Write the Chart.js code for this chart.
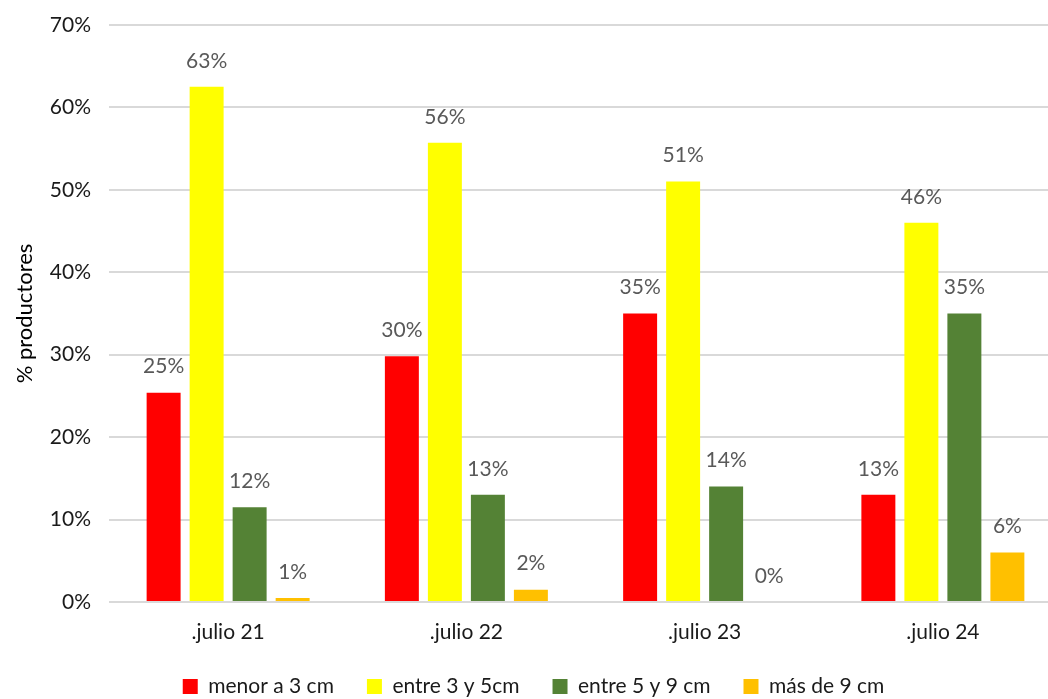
<!DOCTYPE html>
<html>
<head>
<meta charset="utf-8">
<script src="https://cdn.jsdelivr.net/npm/chart.js@4"></script>
<style>
  html, body { margin: 0; padding: 0; background: #fff; }
  #wrap { width: 1048px; height: 699px; }
</style>
</head>
<body>
<div id="wrap"><canvas id="barChart" width="1048" height="699"></canvas></div>
<script>
// datos (porcentaje de productores)
const categories = ['.julio 21', '.julio 22', '.julio 23', '.julio 24'];
const seriesNames = ['menor a 3 cm', 'entre 3 y 5cm', 'entre 5 y 9 cm', 'más de 9 cm'];
const menor3 = [25.4, 29.8, 35.0, 13.0];
const entre3y5 = [62.5, 55.7, 51.0, 46.0];
const entre5y9 = [11.5, 13.0, 14.0, 35.0];
const mas9 = [0.5, 1.5, 0, 6.0];
const seriesColors = ['#FF0000', '#FFFF00', '#548235', '#FFC000'];
const yTicks = [0, 10, 20, 30, 40, 50, 60, 70];

const FONT = 'Lato, "Open Sans", sans-serif';

// el area del grafico original sigue mas alla del borde derecho de la imagen
const PLOT_RIGHT = 1062;

const valueLabels = {
  id: 'valueLabels',
  afterLayout(chart) {
    // centrar la leyenda como en el original
    chart.legend.left += 3;
    chart.legend.right += 3;
    const x = chart.scales.x;
    x.right = PLOT_RIGHT;
    x.width = x.right - x.left;
    x.configure();
    chart.chartArea.right = PLOT_RIGHT;
    chart.chartArea.width = PLOT_RIGHT - chart.chartArea.left;
  },
  // etiquetas de valor encima de cada barra
  afterDatasetsDraw(chart) {
    const ctx = chart.ctx;
    ctx.save();
    ctx.font = '21px ' + FONT;
    ctx.fillStyle = '#595959';
    ctx.textAlign = 'center';
    ctx.textBaseline = 'middle';
    chart.data.datasets.forEach((ds, i) => {
      chart.getDatasetMeta(i).data.forEach((bar, j) => {
        ctx.fillText(Math.round(ds.data[j]) + '%', bar.x, bar.y - 26);
      });
    });
    ctx.restore();
  }
};

const allSeries = [menor3, entre3y5, entre5y9, mas9];

const chart = new Chart(document.getElementById('barChart'), {
  type: 'bar',
  data: {
    labels: categories,
    datasets: allSeries.map((data, i) => ({
      label: seriesNames[i],
      data: data,
      backgroundColor: seriesColors[i],
      borderWidth: 0,
      barPercentage: 0.79,
      categoryPercentage: 0.722
    }))
  },
  options: {
    responsive: false,
    animation: false,
    layout: { padding: { top: 25, right: -13, left: 0, bottom: -8 } },
    plugins: {
      legend: {
        position: 'bottom',
        labels: {
          font: { family: FONT, size: 21 },
          color: '#1a1a1a',
          boxWidth: 15,
          boxHeight: 15,
          padding: 33
        }
      },
      tooltip: { enabled: false }
    },
    scales: {
      x: {
        grid: { display: false },
        border: { display: false },
        afterFit: (s) => { s.height = 41; },
        ticks: { font: { family: FONT, size: 21 }, color: '#1a1a1a', padding: 10 }
      },
      y: {
        min: 0,
        max: 70,
        afterBuildTicks: (s) => { s.ticks = yTicks.map(v => ({ value: v })); },
        afterFit: (s) => { s.width = 109; s.paddingTop = 0; s.paddingBottom = 0; },
        grid: { color: '#D9D9D9', lineWidth: 2, drawTicks: false },
        border: { display: false },
        ticks: {
          font: { family: FONT, size: 21 },
          color: '#1a1a1a',
          padding: 18,
          callback: (v) => v + '%'
        },
        title: {
          display: true,
          text: '% productores',
          font: { family: FONT, size: 22 },
          color: '#000000',
          padding: { top: 12, bottom: 0 }
        }
      }
    }
  },
  plugins: [valueLabels]
});
</script>
</body>
</html>
